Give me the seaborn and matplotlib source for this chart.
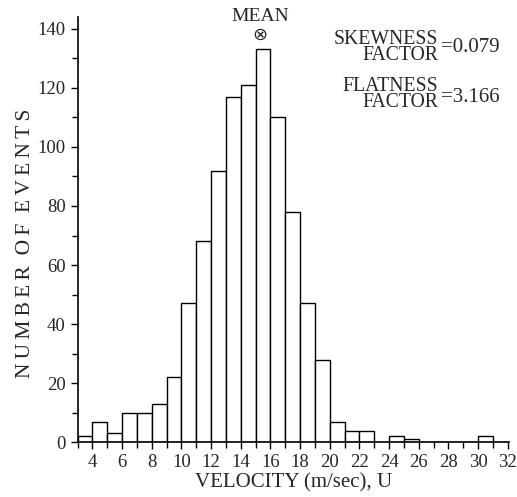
import numpy as np
import pandas as pd
import matplotlib
matplotlib.use("Agg")
import matplotlib.pyplot as plt
import seaborn as sns

# histogram of velocity, 1 m/s bins from 3 to 32
bin_left = list(range(3, 32))
counts = [2, 7, 3, 10, 10, 13, 22, 47, 68, 92, 117, 121, 133, 110, 78,
          47, 28, 7, 4, 4, 0, 2, 1, 0, 0, 0, 0, 2, 0]
mean_velocity = 15.3
skewness = "0.079"
flatness = "3.166"
x_ticks = list(range(4, 33, 2))
y_ticks = list(range(0, 141, 20))

sns.set_style("ticks")
plt.rcParams['font.family'] = ['Liberation Serif', 'DejaVu Serif']


def spaced(s, gap='\u2009'):
    # widen letter spacing like the old typewriter lettering
    return '  '.join(gap.join(w) for w in s.split(' '))


df = pd.DataFrame({'u': [b + 0.5 for b in bin_left], 'n': counts})

fig = plt.figure(figsize=(5.17, 4.97), dpi=100)
ax = fig.add_axes([0.150, 0.110, 0.835, 0.856])

sns.histplot(data=df, x='u', weights='n', binwidth=1, binrange=(3, 32),
             color='white', edgecolor='black', linewidth=1.0, alpha=1, ax=ax)

ax.set_xlim(3, 32.1)
ax.set_ylim(0, 144)
ax.set_xticks(x_ticks)
ax.set_xticks(range(3, 33), minor=True)
ax.set_yticks(y_ticks)
ax.set_yticks(range(0, 141, 10), minor=True)
ax.tick_params(axis='both', which='major', labelsize=13.5, length=5, width=1, color='black', direction='out')
ax.tick_params(axis='both', which='minor', length=4, width=1, color='black', direction='out')
sns.despine(ax=ax)
for s in ['left', 'bottom']:
    ax.spines[s].set_linewidth(1.2)
    ax.spines[s].set_color('black')

ax.set_xlabel('VELOCITY (m/sec), U', fontsize=15)
ax.xaxis.set_label_coords(0.5, -0.072)
ax.set_ylabel(spaced('NUMBER OF EVENTS'), fontsize=15.5)
ax.yaxis.set_label_coords(-0.099, 0.467)

# mean marker
ax.text(mean_velocity, 138, '\u2297', ha='center', va='center', fontsize=13,
        family='DejaVu Sans')
ax.text(mean_velocity, 141.3, 'MEAN', ha='center', va='bottom', fontsize=14, clip_on=False)

# statistics labels
stat_kw = dict(transform=ax.transAxes, va='center', ha='right', fontsize=14.2,
               multialignment='right', linespacing=0.78)
ax.text(0.835, 0.929, 'SKEWNESS\nFACTOR', **stat_kw)
ax.text(0.842, 0.927, '=' + skewness, ha='left', transform=ax.transAxes, va='center', fontsize=15)
ax.text(0.835, 0.818, 'FLATNESS\nFACTOR', **stat_kw)
ax.text(0.842, 0.810, '=' + flatness, ha='left', transform=ax.transAxes, va='center', fontsize=15)

fig.savefig('out.png', dpi=100)
